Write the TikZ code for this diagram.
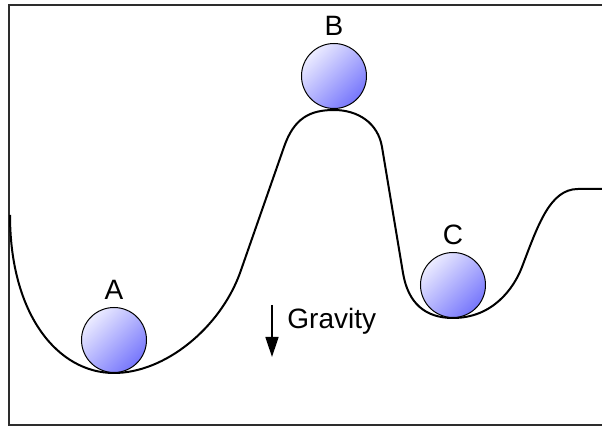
\documentclass[tikz,border=0pt]{standalone}
\usepackage{fontspec}
\setmainfont{Liberation Sans}
\usetikzlibrary{positioning,arrows.meta}
\definecolor{balllight}{RGB}{236,236,255}
\definecolor{balldark}{RGB}{118,118,252}
\definecolor{cframe}{RGB}{45,45,45}
\tikzset{landscape/.style={x=0.5pt,y=-0.5pt,font=\fontsize{14}{16}\selectfont},
  ball/.style={circle,draw=black,line width=0.5pt,minimum size=32.5pt,inner sep=0pt,
    top color=balllight,bottom color=balldark,shading angle=45},
  lbl/.style={inner sep=0pt}}

\begin{document}
\begin{tikzpicture}[landscape]
    \useasboundingbox (0,0) rectangle (602,427);
    \draw[cframe,line width=0.75pt] (9,5) rectangle (620,425);
    % hills and wells
    \draw[line width=1pt] (10,215) .. controls (10,315) and (58,373) .. (114,373)
        .. controls (165,373) and (220,328) .. (240,273) -- (284,147)
        .. controls (294,118) and (310,110) .. (334,110)
        .. controls (358,110) and (378,123) .. (382,147) -- (403,273)
        .. controls (408,303) and (425,318) .. (453,318)
        .. controls (493,318) and (514,288) .. (522,267)
        .. controls (538,225) and (550,189) .. (578,189) -- (610,189);
    \node[ball] (ballA) at (114,340) {};
    \node[ball] (ballB) at (334,76) {};
    \node[ball] (ballC) at (453,285) {};
    \node[lbl,above=3.5pt of ballA] (labelA) {A};
    \node[lbl,above=3.5pt of ballB] (labelB) {B};
    \node[lbl,above=3.5pt of ballC] (labelC) {C};
    \coordinate (gtop) at (272,305);
    \coordinate (gbot) at (272,357);
    \draw[-{Triangle[width=6.5pt,length=10pt]},line width=0.75pt] (gtop) -- (gbot);
    \node[lbl,anchor=base west] (gravity) at (287,329) {Gravity};
\end{tikzpicture}
\end{document}
